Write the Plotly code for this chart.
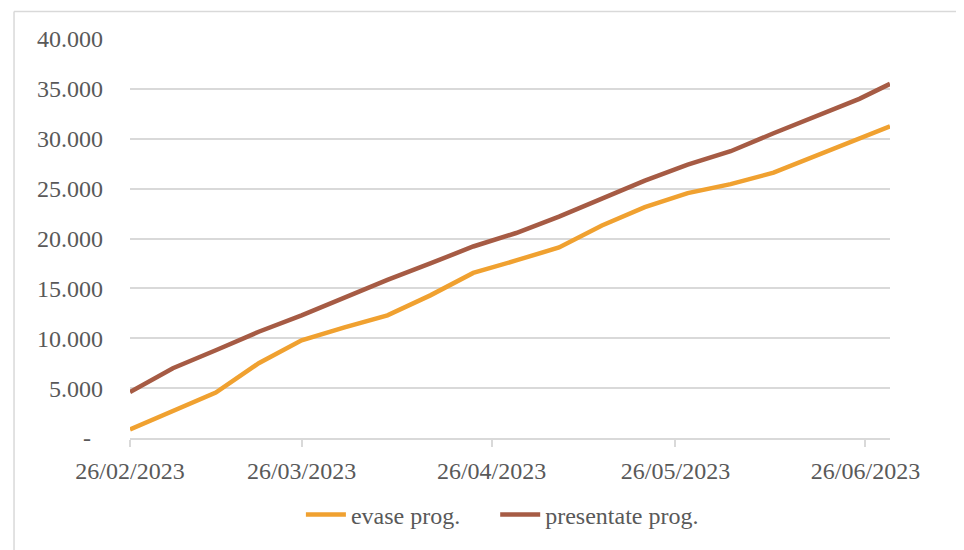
import plotly.graph_objects as go

dates = ["2023-02-26", "2023-03-05", "2023-03-12", "2023-03-19", "2023-03-26",
         "2023-04-02", "2023-04-09", "2023-04-16", "2023-04-23", "2023-04-30",
         "2023-05-07", "2023-05-14", "2023-05-21", "2023-05-28", "2023-06-04",
         "2023-06-11", "2023-06-18", "2023-06-25", "2023-06-30"]

evase = [850, 2700, 4550, 7500, 9800, 11100, 12300, 14300, 16550, 17800,
         19100, 21300, 23150, 24550, 25450, 26600, 28300, 30050, 31250]

presentate = [4600, 7000, 8800, 10650, 12300, 14100, 15850, 17500, 19200, 20550,
              22200, 24000, 25800, 27400, 28750, 30550, 32300, 34000, 35500]

x_tick_vals = ["2023-02-26", "2023-03-26", "2023-04-26", "2023-05-26", "2023-06-26"]
x_tick_text = ["26/02/2023", "26/03/2023", "26/04/2023", "26/05/2023", "26/06/2023"]

y_tick_vals = [0, 5000, 10000, 15000, 20000, 25000, 30000, 35000, 40000]
y_tick_text = ["-\u00a0\u00a0", "5.000", "10.000", "15.000", "20.000",
               "25.000", "30.000", "35.000", "40.000"]

FONT = "Liberation Serif"
TXT = "#595959"
GRID = "#D9D9D9"

fig = go.Figure()
fig.add_trace(go.Scatter(x=dates, y=evase, mode="lines",
                         name="evase prog.\u00a0\u00a0\u00a0\u00a0\u00a0",
                         line=dict(color="#F0A130", width=4.5)))
fig.add_trace(go.Scatter(x=dates, y=presentate, mode="lines", name="presentate prog.",
                         line=dict(color="#A65B44", width=4.5)))

fig.update_layout(
    width=956, height=542,
    margin=dict(l=122, r=74, t=31, b=107),
    paper_bgcolor="white", plot_bgcolor="white",
    font=dict(family=FONT, size=24, color=TXT),
    showlegend=True,
    legend=dict(orientation="h", x=0.49, y=-0.193, xanchor="center", yanchor="middle",
                font=dict(family=FONT, size=24, color=TXT), itemwidth=40,
                bgcolor="rgba(0,0,0,0)"),
    xaxis=dict(type="date", range=["2023-02-26", "2023-06-30"],
               tickvals=x_tick_vals, ticktext=x_tick_text,
               showgrid=False, zeroline=False,
               showline=True, linecolor=GRID, linewidth=1.5,
               ticks="outside", ticklen=7, tickcolor=GRID, tickwidth=1.5,
               ticklabelstandoff=3,
               tickfont=dict(family=FONT, size=24, color=TXT)),
    yaxis=dict(range=[0, 40000], tickvals=y_tick_vals, ticktext=y_tick_text,
               showgrid=True, gridcolor=GRID, gridwidth=1.5,
               zeroline=False, showline=False, ticks="",
               ticklabelstandoff=26,
               tickfont=dict(family=FONT, size=24, color=TXT)),
    shapes=[
        dict(type="line", xref="paper", yref="paper", x0=-0.1526, x1=1.12, y0=1.069, y1=1.069,
             line=dict(color="#D9D9D9", width=1.5)),
        dict(type="line", xref="paper", yref="paper", x0=-0.1526, x1=-0.1526, y0=1.069, y1=-0.3,
             line=dict(color="#D9D9D9", width=1.5)),
    ],
)

fig.write_html("out.html")
